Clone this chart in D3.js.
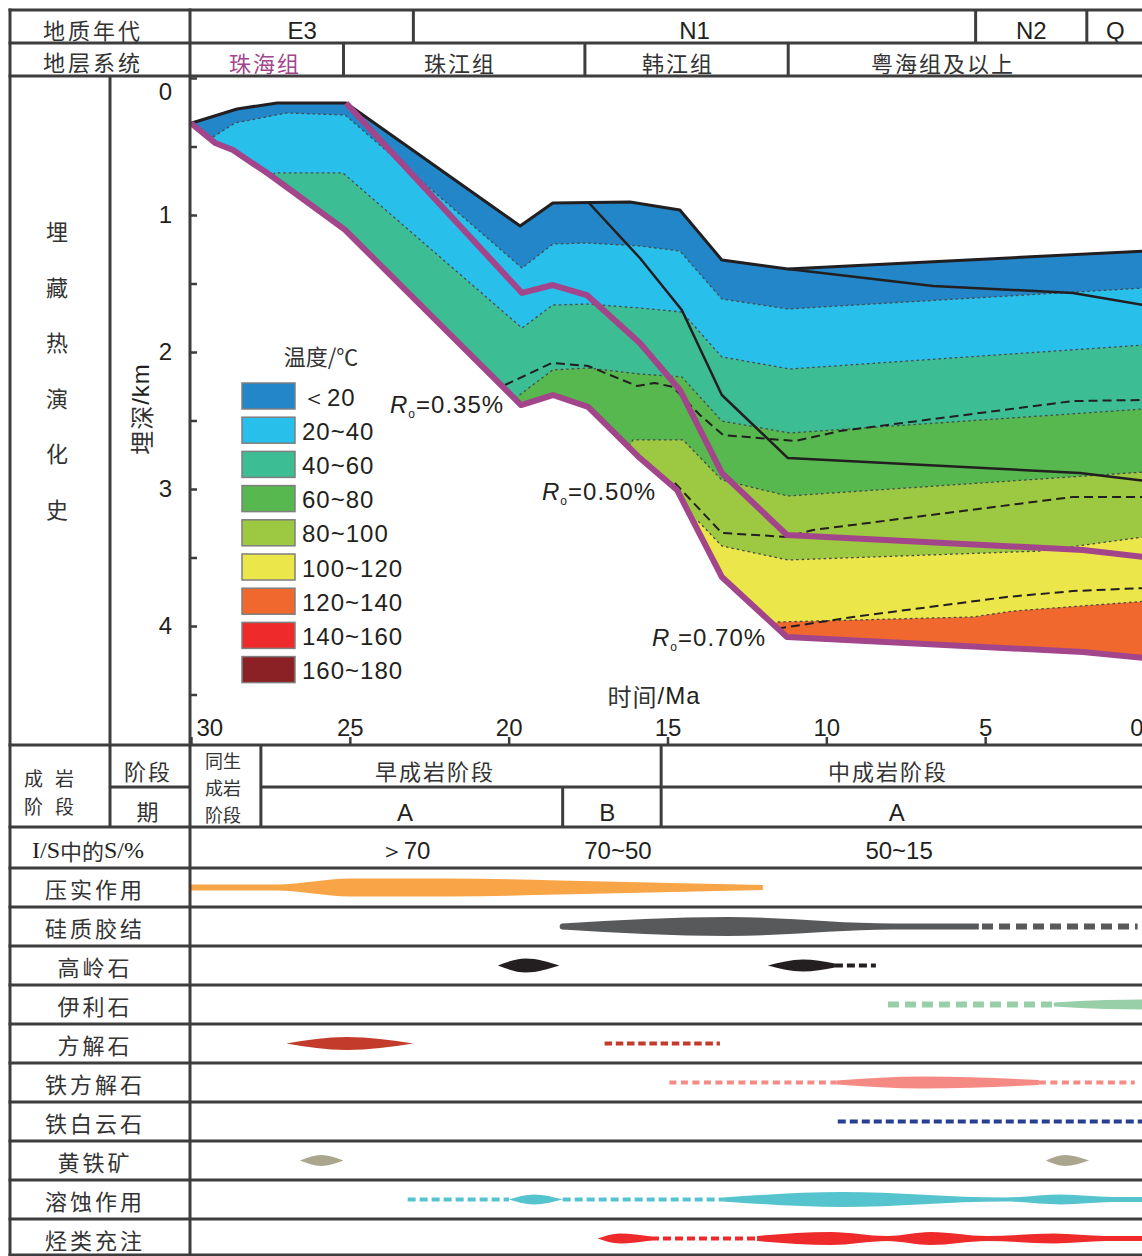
<!DOCTYPE html>
<html>
<head>
<meta charset="utf-8">
<script src="https://cdn.jsdelivr.net/npm/d3@7"></script>
<style>
  body { margin: 0; background: #fff; }
  text { font-family: "Liberation Sans", Arial, sans-serif; fill: #231f20; }
  .cn { font-family: "Noto Sans CJK SC", sans-serif; fill: #333; }
</style>
</head>
<body>
<svg id="chart" width="1142" height="1256"></svg>
<script>
// ---- header data ----
const periods = ["E3", "N1", "N2", "Q"];
const periodBounds = [30, 23, 5.3, 1.8, 0];
const formations = ["珠海组", "珠江组", "韩江组", "粤海组及以上"];
const formationBounds = [30, 25.2, 17.6, 11.2, 0];
const formationLabelAt = [27.67, 21.53, 14.67, 6.33];

// ---- burial history: [age Ma, depth km] ----
const topSurface = [[30, 0.33], [28.55, 0.226], [27.29, 0.182], [25.12, 0.182], [19.64, 1.08], [18.61, 0.912],
  [16.18, 0.905], [14.61, 0.964], [13.29, 1.328], [11.21, 1.394], [0, 1.263]];
const zhuhaiBase = [[30, 0.33], [29.24, 0.474], [28.68, 0.526], [27.51, 0.708], [25.15, 1.109], [19.61, 2.387],
  [18.61, 2.314], [17.5, 2.401], [15.87, 2.774], [14.7, 3.007], [13.29, 3.642], [11.24, 4.08], [1.92, 4.19], [0, 4.234]];
const zhujiangBase = [[25.12, 0.182], [19.58, 1.569], [18.61, 1.511], [17.54, 1.584], [15.87, 1.934], [14.61, 2.277],
  [13.29, 2.883], [11.24, 3.336], [1.92, 3.445], [0, 3.496]];
const hanjiangBase = [[17.5, 0.905], [15.87, 1.314], [14.55, 1.693], [13.29, 2.314], [11.21, 2.774], [2.02, 2.883], [0, 2.94]];
const yuehaiBase = [[11.21, 1.394], [6.64, 1.518], [2.24, 1.569], [0, 1.657]];

// isotherms (20,40,...,120 °C)
const iso20 = [[30, 0.55], [29.31, 0.431], [28.61, 0.328], [26.98, 0.255], [25.15, 0.27], [19.58, 1.387], [18.61, 1.212],
  [17.54, 1.204], [15.87, 1.226], [14.61, 1.263], [13.29, 1.613], [11.21, 1.686], [0, 1.533]];
const iso40 = [[28.6, 1.0], [27.36, 0.693], [25.22, 0.693], [19.58, 1.825], [18.61, 1.657], [17.5, 1.65], [15.87, 1.679],
  [14.55, 1.708], [13.29, 2.036], [11.15, 2.124], [0, 1.949]];
const iso60 = [[20.6, 2.6], [19.74, 2.328], [18.61, 2.131], [17.5, 2.117], [15.87, 2.161], [14.55, 2.182], [13.29, 2.504],
  [11.15, 2.591], [0, 2.416]];
const iso80 = [[17, 3.0], [16.09, 2.642], [14.51, 2.642], [13.29, 2.934], [11.21, 3.051], [0, 2.876]];
const iso100 = [[15, 3.5], [14.07, 3.226], [13.29, 3.416], [11.21, 3.518], [3.28, 3.453], [0, 3.35]];
const iso120 = [[12.5, 4.3], [11.55, 3.971], [5.39, 3.934], [4.13, 3.891], [0, 3.82]];
const isotherms = [iso20, iso40, iso60, iso80, iso100, iso120];

// vitrinite reflectance lines
const ro035 = [[20.12, 2.241], [18.64, 2.08], [17.5, 2.102], [15.96, 2.248], [15.4, 2.226], [14.83, 2.255], [13.98, 2.46],
  [13.25, 2.606], [10.99, 2.65], [9.57, 2.577], [2.24, 2.358], [0, 2.35]];
const ro050 = [[14.77, 2.956], [13.29, 3.321], [11.24, 3.35], [10.42, 3.299], [2.24, 3.058], [0, 3.058]];
const ro070 = [[11.55, 4.02], [9.16, 3.934], [4.32, 3.788], [2.24, 3.745], [0, 3.723]];
const roLabels = ["0.35%", "0.50%", "0.70%"];

const tempClasses = ["＜20", "20~40", "40~60", "60~80", "80~100", "100~120", "120~140", "140~160", "160~180"];

// ---- diagenesis table ----
const stages = ["同生成岩阶段", "早成岩阶段", "中成岩阶段"];
const stageBounds = [30, 27.8, 15.2, 0];
const stageLabelAt = [28.9, 22.32, 8.06];
const subStages = ["A", "B", "A"];
const subStageBounds = [27.8, 18.3, 15.2, 0];
const subStageLabelAt = [23.26, 16.9, 7.78];
const smectite = ["＞70", "70~50", "50~15"];
const smectiteAt = [23.26, 16.56, 7.71];

const processes = ["压实作用", "硅质胶结", "高岭石", "伊利石", "方解石", "铁方解石", "铁白云石", "黄铁矿", "溶蚀作用", "烃类充注"];
// lenses: [age Ma, intensity]; dashes: [from Ma, to Ma]
const compactionLens = [[[30, 3], [27.3, 3], [25, 9], [21.9, 9], [18.4, 7], [12, 2.5]]];
const compactionDash = [];
const silicaLens = [[[18.3, 3], [13.1, 9.5], [7.9, 3], [5.2, 3]]];
const silicaDash = [[5.1, 0.2]];
const kaoliniteLens = [[[20.34, 0], [19.46, 7], [18.4, 0]], [[11.84, 0], [10.74, 6], [9.73, 2]]];
const kaoliniteDash = [[9.73, 8.44]];
const illiteLens = [[[2.84, 2], [1.2, 4.5], [0, 5]]];
const illiteDash = [[8.06, 2.84]];
const calciteLens = [[[27.0, 0], [25.1, 6.5], [23.0, 0]]];
const calciteDash = [[16.98, 13.35]];
const ferrocalciteLens = [[[9.68, 2], [6.93, 6], [3.31, 2.5]]];
const ferrocalciteDash = [[14.94, 9.68], [3.31, 0.29]];
const ankeriteLens = [];
const ankeriteDash = [[9.64, 0]];
const pyriteLens = [[[26.57, 0], [25.9, 5.5], [25.2, 0]], [[3.09, 0], [2.49, 5.5], [1.73, 0]]];
const pyriteDash = [];
const dissolutionLens = [[[20.0, 0], [19.2, 5], [18.3, 0]],
  [[13.25, 2], [9.5, 7.5], [4.4, 2], [2.6, 5], [1.0, 2.5], [0, 2.5]]];
const dissolutionDash = [[23.18, 19.99], [18.3, 13.25]];
const hydrocarbonLens = [[[17.2, 0], [16.5, 5], [15.5, 2]],
  [[12.18, 2.5], [9.86, 6.5], [8.09, 2.5], [6.71, 6.5], [4.95, 2.5], [2.84, 5], [1.2, 2.5], [0, 2.5]]];
const hydrocarbonDash = [[15.52, 12.18]];

const processLenses = [compactionLens, silicaLens, kaoliniteLens, illiteLens, calciteLens, ferrocalciteLens,
  ankeriteLens, pyriteLens, dissolutionLens, hydrocarbonLens];
const processDashes = [compactionDash, silicaDash, kaoliniteDash, illiteDash, calciteDash, ferrocalciteDash,
  ankeriteDash, pyriteDash, dissolutionDash, hydrocarbonDash];

// ---- styles ----
const tempColors = ["#2386c8", "#29bfeb", "#3dbd94", "#56b84e", "#9dc842", "#ebe64a", "#f0682e", "#ee2a2a", "#8b2124"];
const processColors = ["#f8a548", "#58595b", "#231f20", "#98cfa9", "#c23b2b", "#f48a83", "#263f95", "#aaa68e", "#56c4cf", "#ee2a2a"];
const dashWidth = [4, 6, 4, 6, 4, 4, 4, 4, 4, 4];
const dashPattern = ["8,4", "11,6", "8,4", "11,6", "7.5,3.7", "7,4.5", "8,4", "8,4", "8,4", "8,4"];
const gridColor = "#3d3d3d";
const purple = "#a3458a";

const svg = d3.select("#chart");
const x = d3.scaleLinear().domain([30, 0]).range([191, 1144]);
const y = d3.scaleLinear().domain([0, 5]).range([78, 763]);
const tempColor = d3.scaleOrdinal().domain(tempClasses).range(tempColors);
const half = d3.scaleLinear().domain([0, 10]).range([0, 10]);
const rowY = d3.scaleBand().domain(processes).range([868, 1258]);

const line = d3.line().x(d => x(d[0])).y(d => y(d[1]));

// ---- burial plot ----
const strata = topSurface.concat(zhuhaiBase.slice().reverse());
svg.append("clipPath").attr("id", "strata").append("path").attr("d", line(strata) + "Z");

const fills = svg.append("g").attr("clip-path", "url(#strata)");
fills.append("path").attr("d", line(strata) + "Z").attr("fill", tempColor(tempClasses[0]));
const below = d3.area().x(d => x(d[0])).y0(d => y(d[1])).y1(y(5));
isotherms.forEach((iso, i) => {
  fills.append("path").attr("d", below(iso)).attr("fill", tempColor(tempClasses[i + 1]));
});
isotherms.forEach(iso => {
  fills.append("path").attr("d", line(iso)).attr("fill", "none")
    .attr("stroke", "#4a4a4a").attr("stroke-width", 1.3).attr("stroke-dasharray", "2.5,3");
});

[ro035, ro050, ro070].forEach(r => {
  svg.append("path").attr("d", line(r)).attr("fill", "none")
    .attr("stroke", "#231f20").attr("stroke-width", 2).attr("stroke-dasharray", "9,5");
});

[hanjiangBase, yuehaiBase].forEach(b => {
  svg.append("path").attr("d", line(b)).attr("fill", "none")
    .attr("stroke", "#231f20").attr("stroke-width", 2.5).attr("stroke-linejoin", "round");
});
svg.append("path").attr("d", line(topSurface)).attr("fill", "none")
  .attr("stroke", "#231f20").attr("stroke-width", 3).attr("stroke-linejoin", "round");
[zhujiangBase, zhuhaiBase].forEach(b => {
  svg.append("path").attr("d", line(b)).attr("fill", "none")
    .attr("stroke", purple).attr("stroke-width", 6).attr("stroke-linejoin", "round");
});

// Ro labels
const roAnchor = [[390, 413], [542, 500], [652, 646]];
roLabels.forEach((l, i) => {
  const t = svg.append("text").attr("x", roAnchor[i][0]).attr("y", roAnchor[i][1])
    .attr("font-size", 24).attr("letter-spacing", 1);
  t.append("tspan").attr("font-style", "italic").text("R");
  t.append("tspan").attr("font-size", 12).attr("dy", 5).text("o");
  t.append("tspan").attr("dy", -5).text("=" + l);
});

// legend
svg.append("text").attr("class", "cn").attr("x", 321).attr("y", 355).attr("text-anchor", "middle")
  .attr("dominant-baseline", "central").attr("font-size", 22).text("温度/℃");
const lg = svg.append("g").selectAll("g").data(tempClasses).join("g")
  .attr("transform", (d, i) => `translate(242,${383 + i * 34.2})`);
lg.append("rect").attr("width", 53).attr("height", 26).attr("fill", d => tempColor(d))
  .attr("stroke", "#7f7f7f").attr("stroke-width", 1.5);
lg.append("text").attr("x", 60).attr("y", 14).attr("dominant-baseline", "central")
  .attr("font-size", 24).attr("letter-spacing", 1).text(d => d);

// axes
const yAxis = d3.axisLeft(y).tickValues(d3.range(0, 4.6, 0.5)).tickSizeInner(-6).tickSizeOuter(0)
  .tickPadding(19).tickFormat(d => Number.isInteger(d) ? d : "");
const ya = svg.append("g").attr("transform", "translate(191,0)").call(yAxis);
ya.select(".domain").remove();
ya.attr("font-family", null).attr("font-size", 24);
ya.selectAll(".tick line").attr("stroke", gridColor).attr("stroke-width", 2.5);
ya.selectAll(".tick text").attr("fill", "#231f20");
ya.selectAll(".tick").filter(d => d === 0).select("text").attr("dy", "0.9em");

const xAxis = d3.axisTop(x).tickValues([30, 25, 20, 15, 10, 5, 0]).tickSizeInner(8).tickSizeOuter(0).tickPadding(1);
const xa = svg.append("g").attr("transform", "translate(0,745)").call(xAxis);
xa.select(".domain").remove();
xa.attr("font-family", null).attr("font-size", 24);
xa.selectAll(".tick line").attr("stroke", gridColor).attr("stroke-width", 2.5);
xa.selectAll(".tick text").attr("fill", "#231f20");
xa.selectAll(".tick").filter(d => d === 30).select("text").attr("text-anchor", "start").attr("dx", 5);
xa.selectAll(".tick").filter(d => d === 0).select("text").attr("text-anchor", "end").attr("dx", -1);

const depthLabel = svg.append("text").attr("transform", "translate(140,409) rotate(-90)")
  .attr("text-anchor", "middle").attr("dominant-baseline", "central").attr("font-size", 24).attr("letter-spacing", 1);
depthLabel.append("tspan").attr("class", "cn").text("埋深");
depthLabel.append("tspan").text("/km");
const timeLabel = svg.append("text").attr("x", 654).attr("y", 695).attr("text-anchor", "middle")
  .attr("dominant-baseline", "central").attr("font-size", 24).attr("letter-spacing", 1);
timeLabel.append("tspan").attr("class", "cn").text("时间");
timeLabel.append("tspan").text("/Ma");

"埋藏热演化史".split("").forEach((c, i) => {
  svg.append("text").attr("class", "cn").attr("x", 57).attr("y", 230 + i * 55.6)
    .attr("text-anchor", "middle").attr("dominant-baseline", "central").attr("font-size", 22).text(c);
});

// ---- header ----
const cnText = (tx, ty, s, opt = {}) => svg.append("text").attr("class", "cn").attr("x", tx).attr("y", ty)
  .attr("text-anchor", opt.anchor || "middle").attr("dominant-baseline", "central")
  .attr("font-size", opt.size || 22).attr("letter-spacing", opt.ls == null ? 3 : opt.ls).text(s);
const enText = (tx, ty, s) => svg.append("text").attr("x", tx).attr("y", ty).attr("text-anchor", "middle")
  .attr("dominant-baseline", "central").attr("font-size", 24).text(s);

cnText(93, 29, "地质年代");
cnText(93, 61, "地层系统");
periods.forEach((p, i) => enText(x((periodBounds[i] + periodBounds[i + 1]) / 2), 30, p));
formations.forEach((f, i) => {
  const t = cnText(x(formationLabelAt[i]), 62, f, { ls: 2 });
  if (i === 0) t.style("fill", purple);
});

// stacked text, one line per element
const cnLines = (tx, ty, rows, step, opt = {}) => {
  rows.forEach((r, i) => cnText(tx, ty + i * step, r, { anchor: opt.anchor, ls: opt.ls || 0, size: opt.size }));
};

// ---- diagenesis table text ----
cnLines(24, 777, ["成岩", "阶段"], 28, { anchor: "start", ls: 12, size: 19 });
cnText(148, 770, "阶段", { ls: 2 });
cnText(149, 810, "期");
cnLines(x(stageLabelAt[0]) - 3, 760, ["同生", "成岩", "阶段"], 27, { size: 18 });
stages.slice(1).forEach((s, i) => cnText(x(stageLabelAt[i + 1]), 770, s, { ls: 2 }));
subStages.forEach((s, i) => enText(x(subStageLabelAt[i]), 812, s));
smectite.forEach((s, i) => enText(x(smectiteAt[i]), 850, s));
const isLabel = svg.append("text").attr("x", 88).attr("y", 850).attr("text-anchor", "middle")
  .attr("dominant-baseline", "central").attr("font-size", 24);
isLabel.append("tspan").attr("font-family", "Liberation Serif, serif").text("I/S");
isLabel.append("tspan").attr("class", "cn").attr("font-size", 22).text("中的");
isLabel.append("tspan").attr("font-family", "Liberation Serif, serif").text("S/%");

processes.forEach(p => cnText(95, rowY(p) + rowY.bandwidth() / 2, p));

// ---- process marks ----
processes.forEach((p, i) => {
  const cy = rowY(p) + rowY.bandwidth() / 2;
  const lensArea = d3.area().curve(d3.curveMonotoneX)
    .x(d => x(d[0])).y0(d => cy - half(d[1])).y1(d => cy + half(d[1]));
  processDashes[i].forEach(dd => {
    svg.append("line").attr("x1", x(dd[0])).attr("x2", x(dd[1])).attr("y1", cy).attr("y2", cy)
      .attr("stroke", processColors[i]).attr("stroke-width", dashWidth[i]).attr("stroke-dasharray", dashPattern[i]);
  });
  processLenses[i].forEach(l => {
    svg.append("path").attr("d", lensArea(l)).attr("fill", processColors[i]);
  });
  if (p === "硅质胶结") {
    svg.append("circle").attr("cx", x(silicaLens[0][0][0])).attr("cy", cy).attr("r", 3).attr("fill", processColors[i]);
  }
});

// ---- grid lines ----
const grid = svg.append("g").attr("stroke", gridColor).attr("stroke-width", 3).attr("fill", "none");
const hline = (y0, x0, x1) => grid.append("line").attr("x1", x0).attr("x2", x1).attr("y1", y0).attr("y2", y0);
const vline = (x0, y0, y1) => grid.append("line").attr("x1", x0).attr("x2", x0).attr("y1", y0).attr("y2", y1);
[10, 43, 76, 745, 827].forEach(v => hline(v, 8.5, 1150));
processes.forEach(p => hline(rowY(p), 8.5, 1150));
hline(1255, 8.5, 1150);
hline(787, 110, 190);
hline(787, x(stageBounds[1]), 1150);
vline(10, 8.5, 1256);
vline(190, 8.5, 1256);
vline(110, 76, 827);
periodBounds.slice(1, -1).forEach(b => vline(x(b), 10, 43));
formationBounds.slice(1, -1).forEach(b => vline(x(b), 43, 76));
stageBounds.slice(1, -1).forEach(b => vline(x(b), 745, 827));
vline(x(subStageBounds[1]), 787, 827);
</script>
</body>
</html>
